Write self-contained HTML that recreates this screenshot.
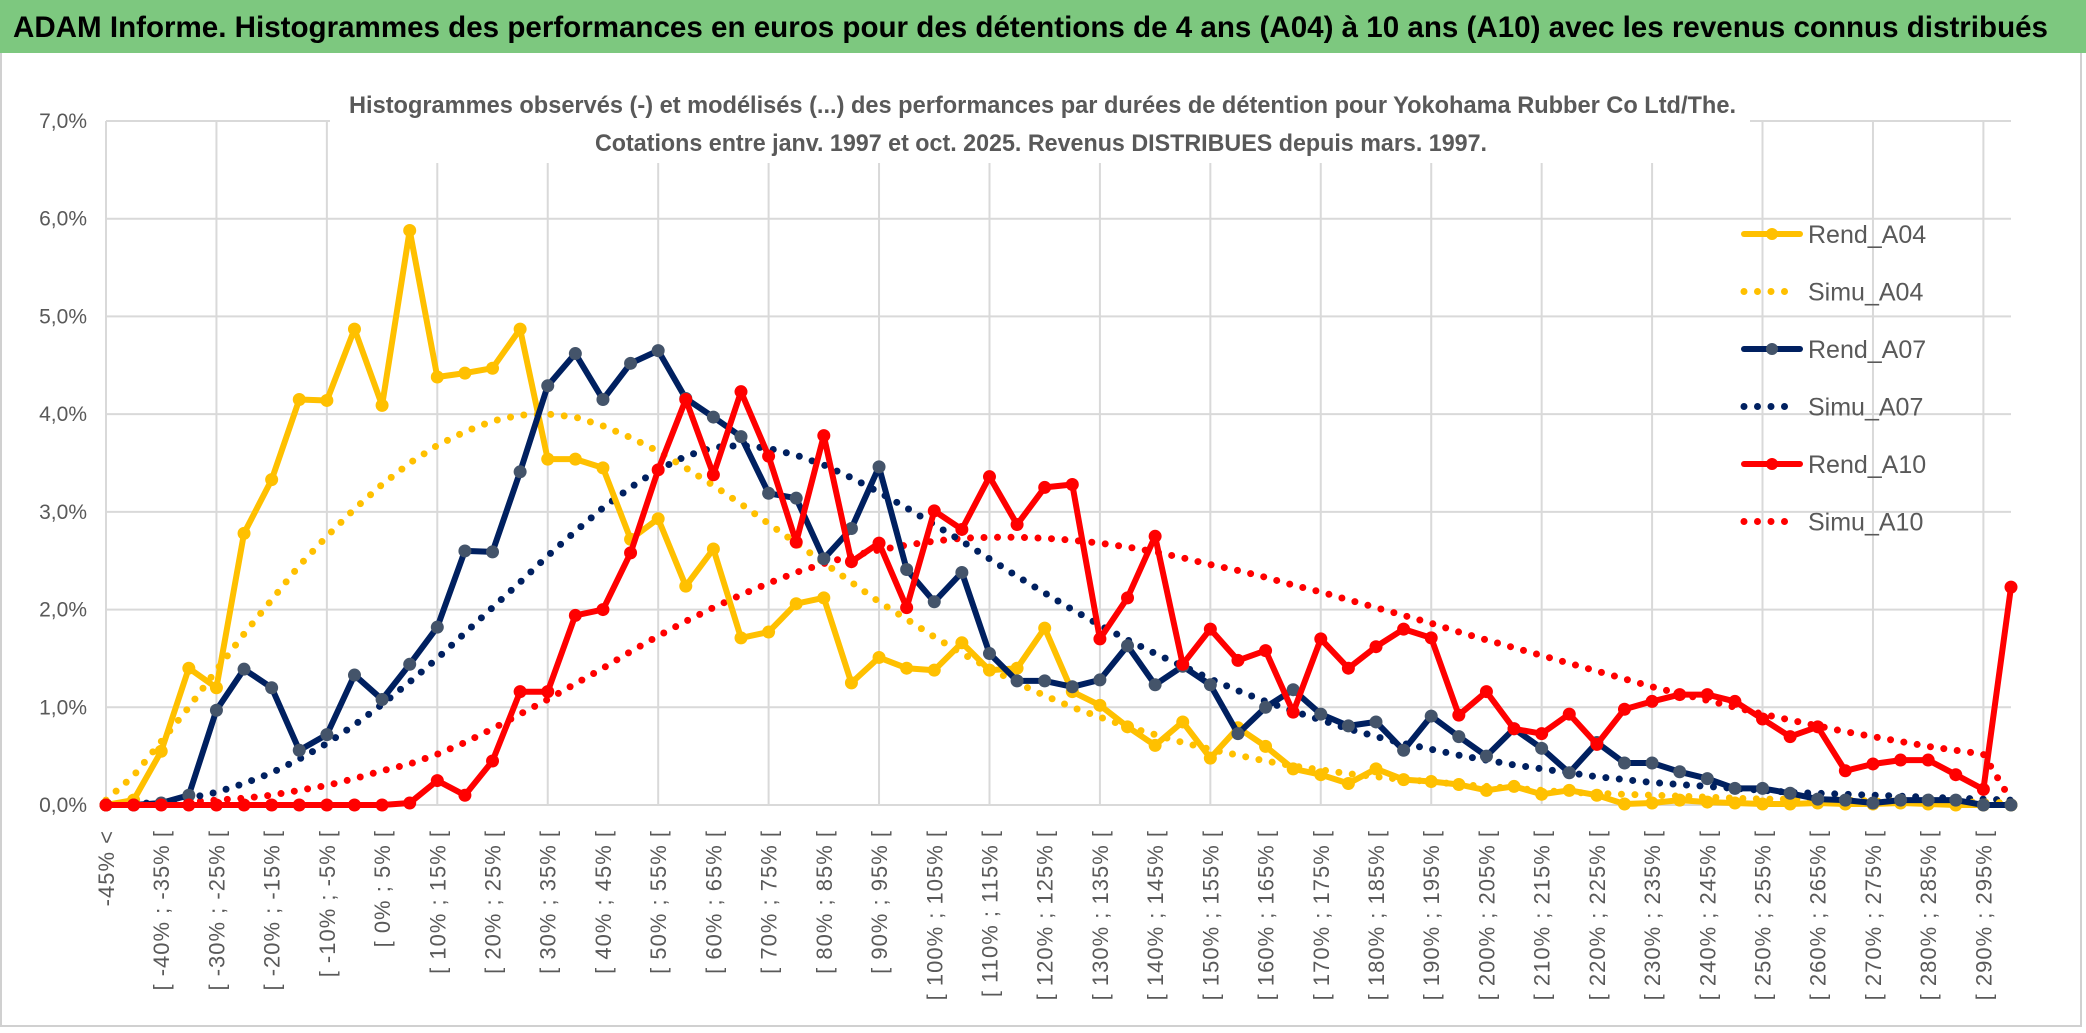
<!DOCTYPE html>
<html><head><meta charset="utf-8"><style>
html,body{margin:0;padding:0;background:#fff;}
svg{display:block;font-family:"Liberation Sans",sans-serif;}
</style></head><body>
<svg id="chart" width="2086" height="1033" viewBox="0 0 2086 1033" xmlns="http://www.w3.org/2000/svg">
<rect x="0" y="0" width="2086" height="1033" fill="#fff"/>
<rect x="1" y="52" width="2080" height="974" fill="#fff" stroke="#d0d0d0" stroke-width="2"/>
<rect x="0" y="0" width="2086" height="53" fill="#7dc87f"/>
<text x="13" y="37" font-size="30" font-weight="bold" fill="#000" textLength="2035" lengthAdjust="spacingAndGlyphs">ADAM Informe. Histogrammes des performances en euros pour des détentions de 4 ans (A04) à 10 ans (A10) avec les revenus connus distribués</text>
<g id="grid"></g>
<rect x="330" y="85" width="1420" height="78" fill="#fff"/>
<text x="349" y="113" font-size="24" font-weight="bold" fill="#595959" textLength="1387" lengthAdjust="spacingAndGlyphs">Histogrammes observés (-) et modélisés (...) des performances par durées de détention pour Yokohama Rubber Co Ltd/The.</text>
<text x="595" y="151" font-size="24" font-weight="bold" fill="#595959" textLength="892" lengthAdjust="spacingAndGlyphs">Cotations entre janv. 1997 et oct. 2025. Revenus DISTRIBUES depuis mars. 1997.</text>
<g id="yaxis"></g>
<g id="xaxis"></g>
<g id="series"></g>
<g id="legend"></g>
</svg>
<script>
const yTicks = [0,1,2,3,4,5,6,7];
const rendA04 = [0,0.05,0.55,1.4,1.2,2.78,3.33,4.15,4.14,4.87,4.09,5.88,4.38,4.42,4.47,4.87,3.54,3.54,3.45,2.72,2.93,2.24,2.62,1.71,1.77,2.06,2.12,1.25,1.51,1.40,1.38,1.66,1.38,1.40,1.81,1.16,1.02,0.80,0.61,0.85,0.48,0.79,0.60,0.37,0.31,0.22,0.37,0.26,0.24,0.21,0.15,0.19,0.11,0.15,0.10,0.01,0.02,0.05,0.03,0.02,0.01,0.01,0.02,0.01,0.01,0.02,0.01,0,0,0];
const simuA04 = [0.05,0.3,0.65,1.0,1.38,1.75,2.1,2.45,2.75,3.03,3.28,3.5,3.68,3.82,3.93,3.99,4.0,3.97,3.88,3.76,3.62,3.45,3.27,3.08,2.88,2.68,2.48,2.28,2.08,1.9,1.72,1.55,1.4,1.25,1.12,1.0,0.9,0.8,0.72,0.64,0.57,0.51,0.45,0.4,0.36,0.32,0.29,0.26,0.24,0.21,0.19,0.17,0.15,0.13,0.12,0.11,0.1,0.09,0.08,0.07,0.06,0.06,0.05,0.05,0.04,0.04,0.03,0.03,0.03,0.02];
const rendA07 = [0,0,0.02,0.1,0.97,1.39,1.2,0.56,0.72,1.33,1.08,1.44,1.82,2.6,2.59,3.41,4.29,4.62,4.15,4.52,4.65,4.16,3.97,3.77,3.19,3.14,2.52,2.83,3.46,2.41,2.08,2.38,1.55,1.27,1.27,1.21,1.28,1.63,1.23,1.42,1.23,0.73,1.0,1.18,0.93,0.81,0.85,0.56,0.91,0.7,0.5,0.78,0.58,0.33,0.64,0.43,0.43,0.34,0.27,0.17,0.17,0.12,0.06,0.05,0.02,0.05,0.05,0.05,0,0];
const simuA07 = [0,0.01,0.03,0.07,0.13,0.22,0.33,0.47,0.63,0.82,1.03,1.26,1.5,1.76,2.02,2.28,2.55,2.8,3.04,3.25,3.43,3.57,3.66,3.68,3.65,3.58,3.48,3.35,3.2,3.04,2.87,2.7,2.52,2.34,2.17,2.0,1.84,1.69,1.55,1.42,1.29,1.17,1.06,0.96,0.87,0.78,0.7,0.63,0.57,0.51,0.46,0.41,0.37,0.33,0.29,0.26,0.23,0.21,0.19,0.17,0.15,0.13,0.12,0.11,0.1,0.09,0.08,0.07,0.06,0.05];
const rendA10 = [0,0,0,0,0,0,0,0,0,0,0,0.02,0.25,0.1,0.45,1.16,1.16,1.94,2.0,2.58,3.43,4.15,3.38,4.23,3.57,2.69,3.78,2.49,2.68,2.02,3.01,2.82,3.36,2.87,3.25,3.28,1.7,2.12,2.75,1.44,1.8,1.48,1.58,0.95,1.7,1.4,1.62,1.8,1.71,0.92,1.16,0.78,0.73,0.93,0.62,0.98,1.06,1.13,1.13,1.06,0.88,0.7,0.8,0.35,0.42,0.46,0.46,0.31,0.16,2.23];
const simuA10 = [0,0.01,0.02,0.03,0.05,0.07,0.1,0.15,0.2,0.27,0.35,0.42,0.52,0.64,0.78,0.93,1.08,1.24,1.4,1.57,1.73,1.88,2.02,2.15,2.27,2.38,2.47,2.55,2.61,2.66,2.7,2.73,2.74,2.74,2.73,2.71,2.68,2.64,2.59,2.53,2.46,2.4,2.33,2.25,2.18,2.1,2.02,1.94,1.86,1.77,1.69,1.61,1.53,1.45,1.37,1.29,1.21,1.14,1.07,1.0,0.93,0.87,0.81,0.75,0.7,0.65,0.6,0.56,0.52,0.05];
const seriesNames = ["Rend_A04","Simu_A04","Rend_A07","Simu_A07","Rend_A10","Simu_A10"];

const NS = "http://www.w3.org/2000/svg";
const N = rendA04.length;
const X0 = 106, X1 = 2011, Y0 = 805, Y7 = 121;
function xPos(i){ return X0 + (X1 - X0) * i / (N - 1); }
function yPos(v){ return Y0 - (Y0 - Y7) * v / 7; }
function mk(tag, attrs, parent){ const e = document.createElementNS(NS, tag); for (const k in attrs) e.setAttribute(k, attrs[k]); parent.appendChild(e); return e; }
function pct(v){ return v.toFixed(1).replace('.', ',') + '%'; }
function catLabel(i){
  if (i === 0) return '-45% <';
  const lo = -45 + (i - 1) * 5;
  return '[ ' + lo + '% ; ' + (lo + 5) + '% [';
}

const grid = document.getElementById('grid');
const yaxis = document.getElementById('yaxis');
yTicks.forEach(t => {
  const l = mk('line', {x1: X0, x2: X1, y1: yPos(t), y2: yPos(t), stroke: '#d9d9d9', 'stroke-width': 2}, grid);
  
  
  const tx = mk('text', {x: 87, y: yPos(t) + 7, 'text-anchor': 'end', 'font-size': 21, fill: '#595959'}, yaxis);
  tx.textContent = pct(t);
  
  
});
for (let i = 0; i < N; i += 4) {
  const l = mk('line', {x1: xPos(i), x2: xPos(i), y1: Y7, y2: Y0, stroke: '#d9d9d9', 'stroke-width': 2}, grid);
  
  
}
const xaxis = document.getElementById('xaxis');
for (let i = 0; i < N - 1; i += 2) {
  const x = xPos(i) + 8, y = 830;
  const tx = mk('text', {x: x, y: y, 'text-anchor': 'end', 'font-size': 22, 'letter-spacing': 1, fill: '#595959', transform: 'rotate(-90 ' + x + ' ' + y + ')'}, xaxis);
  tx.textContent = catLabel(i);
  
  
}

const seriesG = document.getElementById('series');
function drawSolid(data, color, markerColor, name){
  const g = mk('g', {}, seriesG);
  
  
  const pts = data.map((v, i) => xPos(i).toFixed(1) + ',' + yPos(v).toFixed(1)).join(' ');
  const pl = mk('polyline', {points: pts, fill: 'none', stroke: color, 'stroke-width': 6, 'stroke-linejoin': 'round'}, g);
  
  
  data.forEach((v, i) => {
    const c = mk('circle', {cx: xPos(i), cy: yPos(v), r: 6.5, fill: markerColor}, g);
    
    
  });
}
function drawDotted(data, color, name){
  const pts = data.map((v, i) => xPos(i).toFixed(1) + ',' + yPos(v).toFixed(1)).join(' ');
  const pl = mk('polyline', {points: pts, fill: 'none', stroke: color, 'stroke-width': 7, 'stroke-dasharray': '0 13.5', 'stroke-linecap': 'round'}, seriesG);
  
  
}
drawDotted(simuA10, '#ff0000', 'simu-a10-line');
drawDotted(simuA07, '#002060', 'simu-a07-line');
drawDotted(simuA04, '#ffc000', 'simu-a04-line');
drawSolid(rendA04, '#ffc000', '#ffc000', 'rend-a04-series');
drawSolid(rendA07, '#002060', '#44546a', 'rend-a07-series');
drawSolid(rendA10, '#ff0000', '#ff0000', 'rend-a10-series');

const legend = document.getElementById('legend');
const legColors = ['#ffc000','#ffc000','#002060','#002060','#ff0000','#ff0000'];
seriesNames.forEach((nm, k) => {
  const cy = 234 + k * 57.5;
  const g = mk('g', {}, legend);
  
  
  if (k % 2 === 0) {
    mk('line', {x1: 1744, x2: 1800, y1: cy, y2: cy, stroke: legColors[k], 'stroke-width': 6, 'stroke-linecap': 'round'}, g);
    mk('circle', {cx: 1772, cy: cy, r: 6, fill: k === 2 ? '#44546a' : legColors[k]}, g);
  } else {
    mk('line', {x1: 1744, x2: 1792, y1: cy, y2: cy, stroke: legColors[k], 'stroke-width': 7, 'stroke-dasharray': '0 13.5', 'stroke-linecap': 'round'}, g);
  }
  const t = mk('text', {x: 1808, y: cy + 9, 'font-size': 25, fill: '#595959'}, g);
  t.textContent = nm;
});
</script>
</body></html>
